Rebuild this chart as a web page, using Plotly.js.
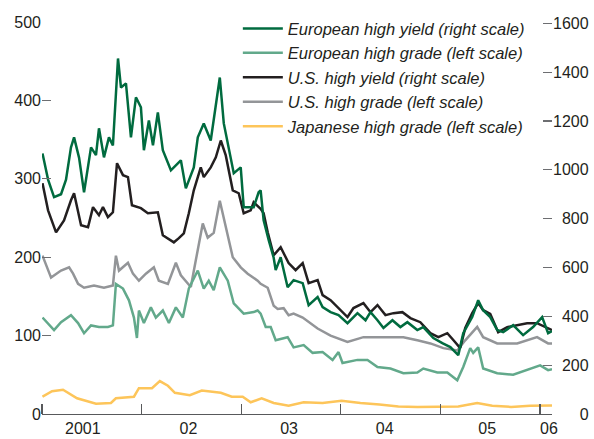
<!DOCTYPE html>
<html>
<head>
<meta charset="utf-8">
<script src="https://cdn.plot.ly/plotly-3.0.1.min.js"></script>
<style>html,body{margin:0;padding:0;background:#fff;}#chart{width:594px;height:439px;}</style>
</head>
<body>
<div id="chart"></div>
<script>
// ---- Data (decimal years) ----
const seriesNames = [
  "European high yield (right scale)",
  "European high grade (left scale)",
  "U.S. high yield (right scale)",
  "U.S. high grade (left scale)",
  "Japanese high grade (left scale)"
];

// European high yield (right scale)
const euHYDates = [2001.005,2001.061,2001.121,2001.191,2001.241,2001.291,2001.322,2001.372,2001.422,2001.492,2001.542,2001.572,2001.622,2001.672,2001.712,2001.742,2001.763,2001.793,2001.843,2001.893,2001.943,2001.993,2002.023,2002.073,2002.114,2002.163,2002.213,2002.294,2002.394,2002.444,2002.524,2002.564,2002.624,2002.694,2002.745,2002.785,2002.825,2002.875,2002.925,2002.995,2003.025,2003.125,2003.175,2003.195,2003.225,2003.276,2003.326,2003.346,2003.396,2003.466,2003.526,2003.617,2003.677,2003.767,2003.817,2003.897,2003.977,2004.067,2004.167,2004.248,2004.298,2004.368,2004.428,2004.518,2004.598,2004.668,2004.768,2004.828,2004.929,2005.019,2005.099,2005.179,2005.229,2005.319,2005.379,2005.429,2005.500,2005.570,2005.630,2005.730,2005.830,2005.930,2006.021,2006.081,2006.120];
const euHY = [1067,960,888,900,960,1092,1133,1050,908,1092,1060,1170,1051,1133,1100,1300,1456,1337,1354,1133,1297,1256,1080,1202,1100,1235,1080,998,1039,924,1010,1133,1190,1120,1272,1378,1190,1080,986,1010,847,847,908,916,793,712,640,589,642,519,548,536,446,479,438,417,405,372,413,384,417,384,352,384,356,376,344,356,311,290,274,241,331,397,466,425,397,344,335,364,323,356,397,331,340];

// European high grade (left scale)
const euHGDates = [2001.005,2001.121,2001.191,2001.291,2001.362,2001.422,2001.492,2001.572,2001.662,2001.712,2001.742,2001.813,2001.873,2001.923,2001.953,2001.973,2002.023,2002.093,2002.143,2002.213,2002.274,2002.344,2002.414,2002.474,2002.564,2002.624,2002.674,2002.724,2002.785,2002.865,2002.925,2003.025,2003.125,2003.165,2003.195,2003.246,2003.296,2003.346,2003.466,2003.526,2003.627,2003.717,2003.817,2003.917,2003.977,2004.017,2004.167,2004.268,2004.368,2004.498,2004.628,2004.768,2004.828,2004.969,2005.069,2005.169,2005.229,2005.299,2005.329,2005.379,2005.429,2005.570,2005.730,2005.870,2006.001,2006.081,2006.120];
const euHG = [123,107,117,126,116,103,113,111,111,113,166,160,145,123,97,132,116,136,123,132,116,136,123,160,183,160,170,158,187,170,141,128,130,132,128,111,111,94,98,85,88,78,79,69,79,65,69,69,60,58,52,53,58,53,53,43,60,84,78,85,58,52,50,56,62,56,57];

// U.S. high yield (right scale)
const usHYDates = [2001.005,2001.061,2001.141,2001.221,2001.291,2001.322,2001.392,2001.462,2001.512,2001.572,2001.612,2001.662,2001.712,2001.753,2001.813,2001.863,2001.903,2001.993,2002.063,2002.163,2002.213,2002.324,2002.374,2002.424,2002.474,2002.524,2002.594,2002.624,2002.694,2002.745,2002.795,2002.845,2002.915,2002.975,2003.025,2003.095,2003.125,2003.195,2003.225,2003.266,2003.326,2003.396,2003.476,2003.546,2003.617,2003.677,2003.767,2003.817,2003.897,2003.977,2004.067,2004.127,2004.227,2004.298,2004.368,2004.448,2004.528,2004.618,2004.698,2004.798,2004.899,2004.979,2005.069,2005.129,2005.199,2005.249,2005.319,2005.379,2005.429,2005.500,2005.580,2005.670,2005.770,2005.870,2005.970,2006.071,2006.120];
const usHY = [945,834,744,793,875,904,773,765,847,814,847,806,826,1027,978,970,855,843,822,826,732,703,720,740,822,916,1010,970,1010,1051,1120,1059,916,904,822,834,867,840,822,744,650,683,618,589,618,536,548,487,466,434,397,434,454,417,446,405,413,417,393,376,331,315,331,303,270,352,413,454,425,410,335,356,364,372,372,352,344];

// U.S. high grade (left scale)
const usHGDates = [2001.005,2001.091,2001.191,2001.272,2001.312,2001.362,2001.422,2001.522,2001.622,2001.712,2001.742,2001.773,2001.863,2001.913,2001.973,2002.043,2002.123,2002.173,2002.264,2002.344,2002.394,2002.494,2002.544,2002.614,2002.664,2002.724,2002.785,2002.845,2002.915,2002.995,2003.065,2003.165,2003.195,2003.266,2003.326,2003.366,2003.426,2003.476,2003.526,2003.617,2003.767,2003.897,2004.067,2004.227,2004.368,2004.498,2004.628,2004.768,2004.899,2005.029,2005.169,2005.249,2005.369,2005.429,2005.570,2005.770,2005.970,2006.081,2006.120];
const usHG = [202,174,183,187,179,166,161,164,161,164,202,183,193,179,170,179,187,170,166,193,177,162,196,243,225,231,272,238,200,187,179,170,166,161,138,134,135,126,128,123,109,100,92,98,98,98,98,94,90,84,81,94,111,98,90,90,98,90,90];

// Japanese high grade (left scale)
const jpHGDates = [2001.005,2001.101,2001.211,2001.352,2001.542,2001.692,2001.742,2001.923,2001.973,2002.104,2002.183,2002.264,2002.334,2002.484,2002.604,2002.795,2002.905,2003.015,2003.095,2003.205,2003.326,2003.476,2003.627,2003.817,2004.007,2004.197,2004.388,2004.578,2004.768,2004.959,2005.179,2005.369,2005.520,2005.710,2005.900,2006.120];
const jpHG = [22,29,31,20,13,14,20,22,33,33,42,36,27,24,30,27,22,22,15,20,14,10.5,15,14,17,14,12,9.5,9,9,9.5,14,10.5,9,10.5,11];

// Axis ticks
const yLeftTicks = [0,100,200,300,400,500];
const yRightTicks = [0,200,400,600,800,1000,1200,1400,1600];
const yearBoundaries = [2001,2002,2003,2004,2005,2006];
const yearLabelPos = [2001.41,2002.47,2003.48,2004.44,2005.47,2006.09];
const yearLabels = ["2001","02","03","04","05","06"];

const colors = {
  euHY: "#006b3f",
  euHG: "#62a98b",
  usHY: "#231f20",
  usHG: "#939598",
  jpHG: "#fdc55a"
};

const FONT = "Liberation Sans, Arial, sans-serif";
const LW = 2.5;

function rightLabel(v){
  const s = String(v);
  return "\u2007".repeat(4 - s.length) + s;
}

const traces = [
  {x: jpHGDates, y: jpHG, name: seriesNames[4], yaxis: "y", line: {color: colors.jpHG, width: LW}},
  {x: usHGDates, y: usHG, name: seriesNames[3], yaxis: "y", line: {color: colors.usHG, width: LW}},
  {x: usHYDates, y: usHY, name: seriesNames[2], yaxis: "y2", line: {color: colors.usHY, width: LW}},
  {x: euHGDates, y: euHG, name: seriesNames[1], yaxis: "y", line: {color: colors.euHG, width: LW}},
  {x: euHYDates, y: euHY, name: seriesNames[0], yaxis: "y2", line: {color: colors.euHY, width: LW}}
].map(t => Object.assign({type: "scatter", mode: "lines", hoverinfo: "skip"}, t));

const axisColor = "#58595b";

const layout = {
  width: 594, height: 439, autosize: false,
  margin: {l: 42, r: 42, t: 21, b: 25, pad: 0},
  paper_bgcolor: "#ffffff", plot_bgcolor: "#ffffff",
  showlegend: true,
  font: {family: FONT, size: 16, color: "#231f20"},
  xaxis: {
    range: [2001, 2006.12], showgrid: false, zeroline: false,
    showline: true, linecolor: axisColor, linewidth: 1.2,
    tickmode: "array", tickvals: yearLabelPos, ticktext: yearLabels,
    ticks: "", ticklabelstandoff: 0,
    tickfont: {family: FONT, size: 16, color: "#231f20"},
    minor: {tickmode: "array", tickvals: yearBoundaries, ticks: "inside", ticklen: 10, tickcolor: axisColor, tickwidth: 1.2, showgrid: false}
  },
  yaxis: {
    range: [0, 500], showgrid: false, zeroline: false, showline: false,
    tickmode: "array", tickvals: yLeftTicks,
    ticks: "inside", ticklen: 9, tickwidth: 1.2, tickcolor: "#6d6e71",
    tickfont: {family: FONT, size: 16, color: "#231f20"}
  },
  yaxis2: {
    range: [0, 1605.3], overlaying: "y", side: "right",
    showgrid: false, zeroline: false, showline: false,
    tickmode: "array", tickvals: yRightTicks, ticktext: yRightTicks.map(rightLabel),
    ticks: "inside", ticklen: 9, tickwidth: 1.2, tickcolor: "#6d6e71",
    tickfont: {family: FONT, size: 16, color: "#231f20"}
  },
  legend: {
    x: 0.384, y: 1.025, xanchor: "left", yanchor: "top",
    traceorder: "reversed", bgcolor: "rgba(0,0,0,0)", borderwidth: 0,
    font: {family: FONT, size: 16.5, style: "italic", color: "#231f20"},
    itemwidth: 40, tracegroupgap: 0
  }
};

Plotly.newPlot("chart", traces, layout, {staticPlot: true, displayModeBar: false});
</script>
</body>
</html>
